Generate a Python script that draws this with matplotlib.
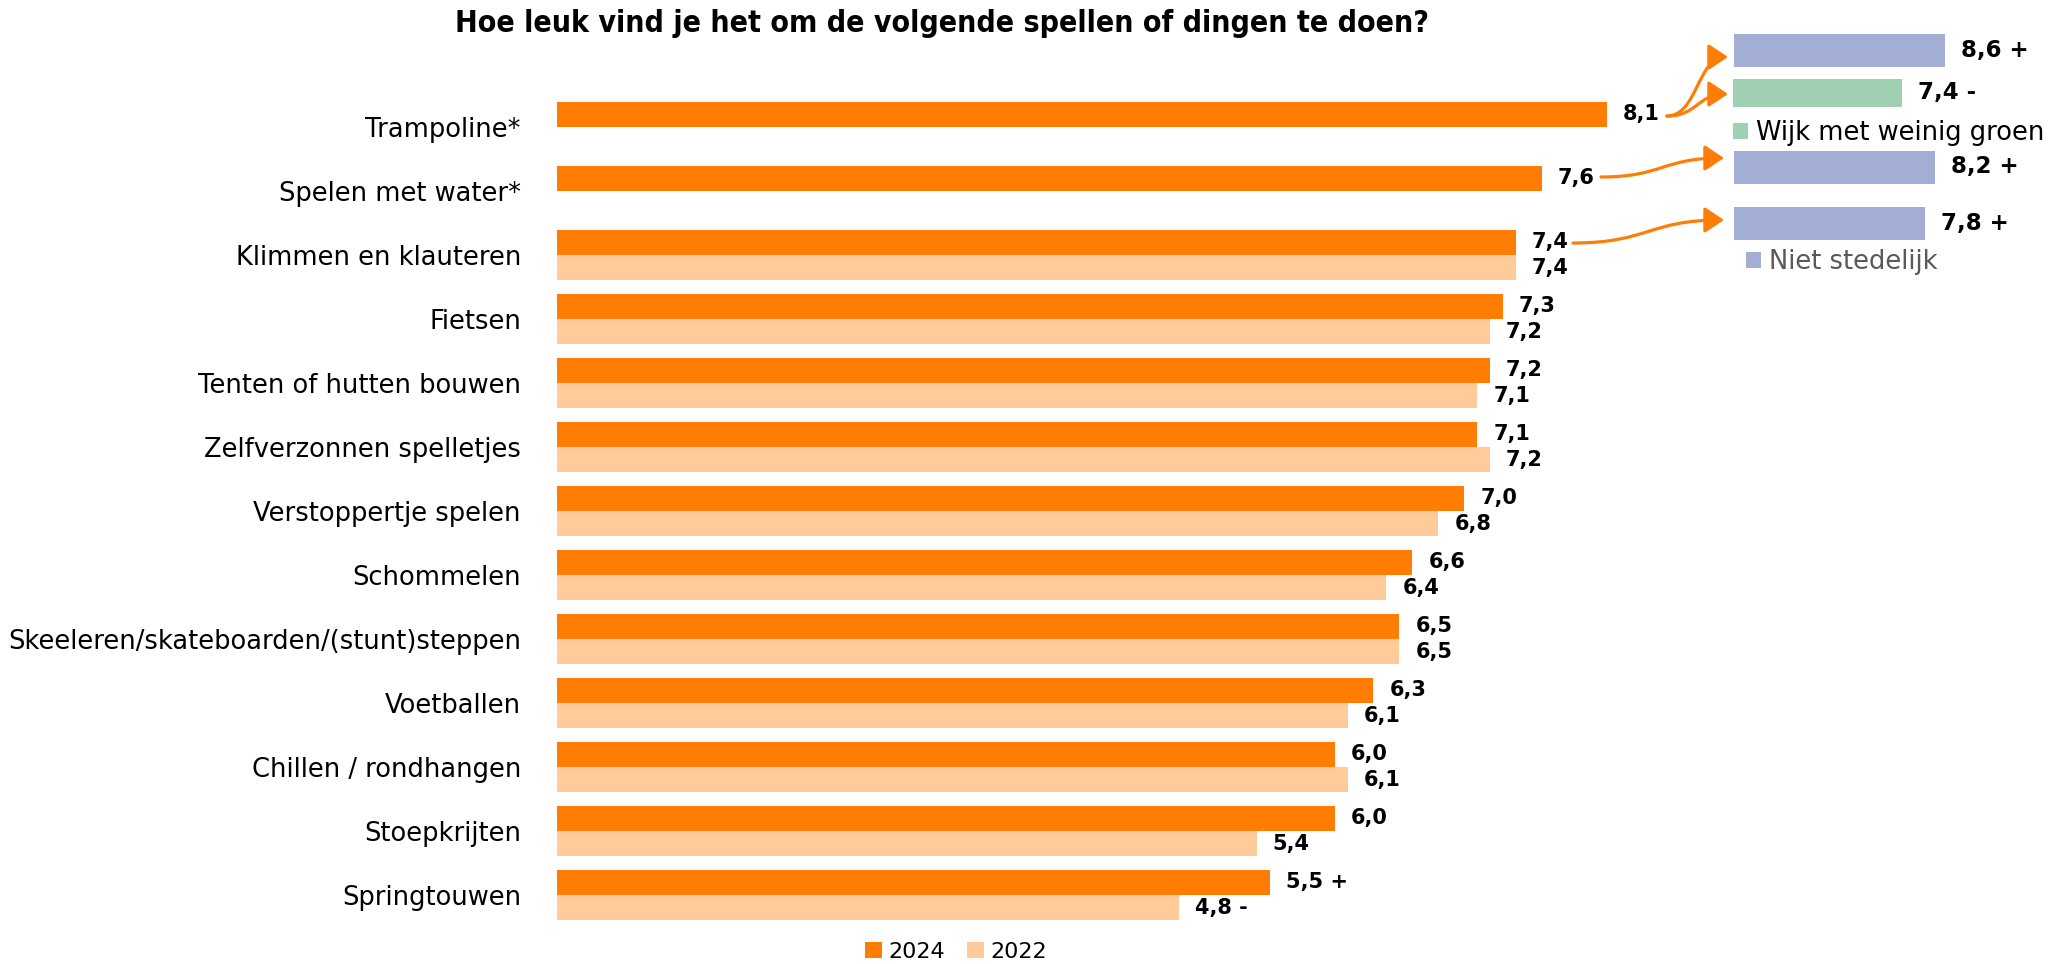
import numpy as np
import matplotlib.pyplot as plt
from matplotlib.path import Path
from matplotlib.patches import FancyArrowPatch

# data
categories = ["Trampoline*", "Spelen met water*", "Klimmen en klauteren", "Fietsen",
              "Tenten of hutten bouwen", "Zelfverzonnen spelletjes", "Verstoppertje spelen",
              "Schommelen", "Skeeleren/skateboarden/(stunt)steppen", "Voetballen",
              "Chillen / rondhangen", "Stoepkrijten", "Springtouwen"]
v2024 = [8.1, 7.6, 7.4, 7.3, 7.2, 7.1, 7.0, 6.6, 6.5, 6.3, 6.0, 6.0, 5.5]
v2022 = [np.nan, np.nan, 7.4, 7.2, 7.1, 7.2, 6.8, 6.4, 6.5, 6.1, 6.1, 5.4, 4.8]
sig2024 = ["", "", "", "", "", "", "", "", "", "", "", "", " +"]
sig2022 = ["", "", "", "", "", "", "", "", "", "", "", "", " -"]

ns_vals = [8.6, 8.2, 7.8]          # Niet stedelijk (Trampoline, Spelen met water, Klimmen)
ns_sig = [" +", " +", " +"]
green_vals = [7.4]                 # Wijk met weinig groen (Trampoline)
green_sig = [" -"]

c24 = "#FF7D05"
c22 = "#FFCB9A"
cgreen = "#A0D0B2"
cns = "#A2AED3"

W, H = 2067, 964
fig = plt.figure(figsize=(W / 100, H / 100), dpi=100)

# main chart
ax = fig.add_axes([557 / W, 1 - 927 / H, 1296 / W, 832 / H])
y = np.arange(len(categories))
bh = 0.39
b1 = ax.barh(y - 0.2, v2024, height=bh, color=c24, label="2024")
b2 = ax.barh(y + 0.2, v2022, height=bh, color=c22, label="2022")
ax.set_xlim(0, 10)
ax.set_ylim(len(categories) - 0.5, -0.5)
ax.set_yticks(y)
ax.set_yticklabels(categories, fontsize=18.5)
ax.tick_params(axis="y", length=0, pad=26)
ax.set_xticks([])
for s in ax.spines.values():
    s.set_visible(False)

for i in range(len(categories)):
    ax.annotate(f"{v2024[i]:.1f}".replace(".", ",") + sig2024[i], (v2024[i], y[i] - 0.2),
                xytext=(11.5, 0), textcoords="offset points", va="center", ha="left",
                fontsize=15, fontweight="bold")
    if not np.isnan(v2022[i]):
        ax.annotate(f"{v2022[i]:.1f}".replace(".", ",") + sig2022[i], (v2022[i], y[i] + 0.2),
                    xytext=(11.5, 0), textcoords="offset points", va="center", ha="left",
                    fontsize=15, fontweight="bold")

fig.text(942 / W, 1 - 24 / H, "Hoe leuk vind je het om de volgende spellen of dingen te doen?",
         ha="center", va="center", fontsize=21.7, fontweight="bold", fontstretch="condensed")

fig.legend(handles=[b1, b2], loc="center", bbox_to_anchor=(956 / W, 1 - 952 / H), ncol=2,
           frameon=False, fontsize=16, handlelength=0.75, handleheight=0.75,
           handletextpad=0.3, columnspacing=1.0)

# inset: Niet stedelijk
ax_ns = fig.add_axes([1734 / W, 1 - 240 / H, (W - 1734) / W, 206 / H])
ns_rows = [50, 167, 223.5]
bn = ax_ns.barh(ns_rows, ns_vals, height=33, color=cns, label="Niet stedelijk")
ax_ns.set_ylim(240, 34)
ax_ns.set_xlim(0, (W - 1734) / 24.5)
ax_ns.axis("off")
for r, v, s in zip(ns_rows, ns_vals, ns_sig):
    ax_ns.annotate(f"{v:.1f}".replace(".", ",") + s, (v, r), xytext=(11.5, 0),
                   textcoords="offset points", va="center", ha="left",
                   fontsize=16.5, fontweight="bold")

# inset: Wijk met weinig groen
ax_g = fig.add_axes([1733 / W, 1 - 107 / H, (W - 1733) / W, 28 / H])
bg = ax_g.barh([0], green_vals, height=1, color=cgreen, label="Wijk met weinig groen")
ax_g.set_ylim(0.5, -0.5)
ax_g.set_xlim(0, (W - 1733) / 22.8)
ax_g.axis("off")
ax_g.annotate(f"{green_vals[0]:.1f}".replace(".", ",") + green_sig[0], (green_vals[0], 0),
              xytext=(11.5, 0), textcoords="offset points", va="center", ha="left",
              fontsize=16.5, fontweight="bold")

fig.legend(handles=[bg], loc="center left", bbox_to_anchor=(1733 / W, 1 - 133 / H),
           frameon=False, fontsize=18.5, handlelength=0.6, handleheight=0.6,
           handletextpad=0.3, borderaxespad=0, borderpad=0)
leg_ns = fig.legend(handles=[bn], loc="center left", bbox_to_anchor=(1746 / W, 1 - 262 / H),
                    frameon=False, fontsize=18.5, handlelength=0.6, handleheight=0.6,
                    handletextpad=0.3, borderaxespad=0, borderpad=0)
for t in leg_ns.get_texts():
    t.set_color("#595959")

# overlay for the arrows (pixel coordinates, y downward)
ov = fig.add_axes([0, 0, 1, 1], zorder=5)
ov.set_xlim(0, W)
ov.set_ylim(H, 0)
ov.axis("off")
ov.patch.set_alpha(0)

arrows = [((1667, 116), (1728, 57)),
          ((1667, 116), (1728, 94)),
          ((1601, 177), (1724, 158)),
          ((1573, 243), (1724, 220))]
for (x0, y0), (x1, y1) in arrows:
    xm = (x0 + x1) / 2
    p = Path([(x0, y0), (xm, y0), (xm, y1), (x1, y1)],
             [Path.MOVETO, Path.CURVE4, Path.CURVE4, Path.CURVE4])
    ov.add_patch(FancyArrowPatch(path=p, arrowstyle="-|>,head_length=0.9,head_width=0.6",
                                 mutation_scale=13, color=c24, lw=2.3))

fig.savefig("out.png", dpi=100)
